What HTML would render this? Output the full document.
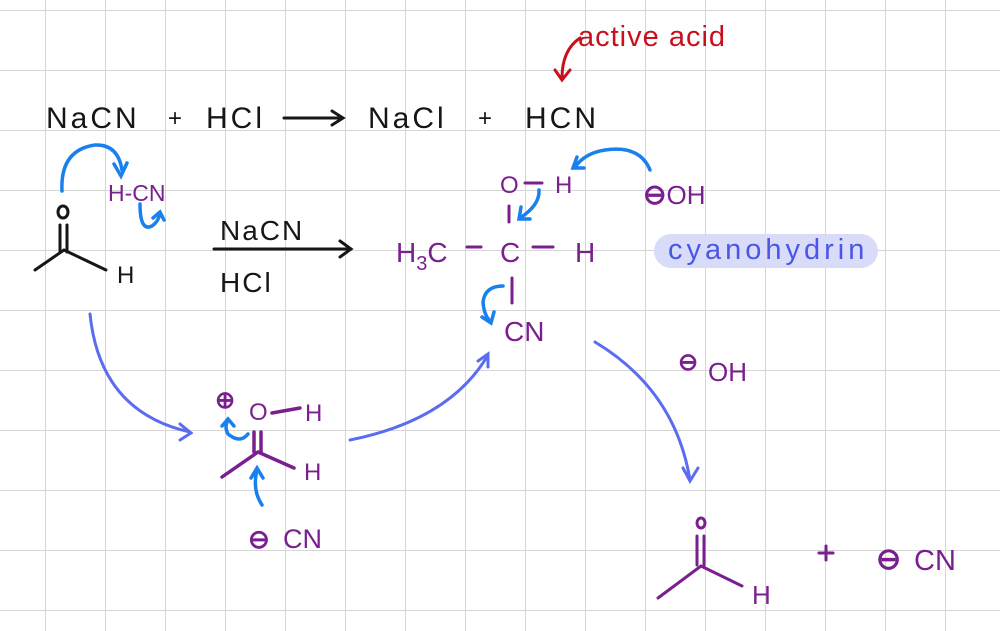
<!DOCTYPE html>
<html><head><meta charset="utf-8"><style>
html,body{margin:0;padding:0;background:#fff;}
svg{display:block;}
text{font-family:"Liberation Sans",sans-serif;}
</style></head><body>
<svg width="1000" height="631" viewBox="0 0 1000 631" xmlns="http://www.w3.org/2000/svg">
<defs>
<pattern id="g" x="-14" y="10" width="60" height="60" patternUnits="userSpaceOnUse">
<path d="M60 0V60M0 0H60" stroke="#d6d6d6" stroke-width="2" fill="none"/>
</pattern>
</defs>
<rect width="1000" height="631" fill="url(#g)"/>

<!-- top reaction -->
<g fill="#161616" font-size="30" letter-spacing="3">
<text x="46" y="128">NaCN</text>
<text x="168" y="126" font-size="24">+</text>
<text x="206" y="128">HCl</text>
<text x="368" y="128">NaCl</text>
<text x="478" y="126" font-size="24">+</text>
<text x="525" y="128">HCN</text>
</g>
<g stroke="#161616" stroke-width="3" fill="none" stroke-linecap="round">
<path d="M284 118H342M332 111L343 118L332 125"/>
<path d="M214 249H350M340 241L351 249L340 257"/>
</g>
<text x="578" y="46" fill="#c8101c" font-size="29" letter-spacing="1">active acid</text>
<path d="M580 38Q562 50 562 78M555 70L562 80L570 70" stroke="#c8101c" stroke-width="3" fill="none" stroke-linecap="round"/>

<!-- left aldehyde -->
<g stroke="#161616" stroke-width="3" fill="none" stroke-linecap="round">
<ellipse cx="63" cy="212" rx="5" ry="6"/>
<path d="M60 225V252M67 225V252M35 270L64 250L106 270"/>
</g>
<text x="117" y="283" fill="#161616" font-size="24">H</text>
<text x="108" y="201" fill="#7a1f8e" font-size="23">H-CN</text>
<g stroke="#1a80ee" stroke-width="3.5" fill="none" stroke-linecap="round">
<path d="M62 191Q60 150 95 145Q118 144 122 170M114 164L121 176L127 163"/>
<path d="M140 204Q140 232 152 226Q158 222 160 214M153 218L160 212L164 220"/>
</g>
<g fill="#161616" font-size="28" letter-spacing="2">
<text x="220" y="240">NaCN</text>
<text x="220" y="292">HCl</text>
</g>

<!-- cyanohydrin -->
<rect x="654" y="234" width="224" height="34" rx="17" fill="#d8dcf8"/>
<text x="668" y="259" fill="#4a56e6" font-size="29" letter-spacing="4">cyanohydrin</text>
<g fill="#7a1f8e" font-size="28">
<text x="500" y="193" font-size="24">O</text>
<text x="555" y="193" font-size="24">H</text>
<text x="396" y="262">H<tspan font-size="20" dy="8">3</tspan><tspan dy="-8">C</tspan></text>
<text x="500" y="262">C</text>
<text x="575" y="262">H</text>
<text x="504" y="341">CN</text>
<text x="643" y="204" font-size="26"><tspan font-weight="bold" font-size="28">⊖</tspan>OH</text>
</g>
<g stroke="#7a1f8e" stroke-width="3" fill="none" stroke-linecap="round">
<path d="M525 183H542M509 206V222M467 247H481M533 247H553M512 278V303"/>
</g>
<g stroke="#1a80ee" stroke-width="3.5" fill="none" stroke-linecap="round">
<path d="M650 170Q640 145 605 150Q585 153 575 167M577 157L573 168L584 168"/>
<path d="M539 190Q540 205 520 218M521 207L519 219L530 219"/>
<path d="M503 286Q485 286 483 302Q484 315 490 321M482 317L491 323L494 312"/>
</g>

<!-- periwinkle arrows -->
<g stroke="#5b6cf0" stroke-width="3" fill="none" stroke-linecap="round">
<path d="M90 314Q100 412 190 432M180 424L191 433L180 440"/>
<path d="M350 440Q450 420 488 355M478 361L488 354L488 367"/>
<path d="M595 342Q675 390 690 480M683 468L690 481L698 468"/>
</g>

<!-- intermediate -->
<g fill="#7a1f8e" font-size="24">
<text x="215" y="408" font-size="24" font-weight="bold">⊕</text>
<text x="249" y="420">O</text>
<text x="305" y="421">H</text>
<text x="304" y="480">H</text>
<text x="248" y="548" font-size="26" font-weight="bold">⊖</text>
<text x="283" y="548" font-size="27">CN</text>
</g>
<g stroke="#7a1f8e" stroke-width="3.5" fill="none" stroke-linecap="round">
<path d="M272 413L300 408M254 432V452M261 432V452M222 477L258 452L294 468"/>
</g>
<g stroke="#1a80ee" stroke-width="3.5" fill="none" stroke-linecap="round">
<path d="M248 434Q240 444 228 434Q224 427 228 420M222 426L228 419L234 426"/>
<path d="M262 505Q252 490 257 470M251 478L257 468L263 478"/>
</g>
<g fill="#7a1f8e" font-size="26">
<text x="678" y="370" font-size="24" font-weight="bold">⊖</text>
<text x="708" y="381">OH</text>
</g>

<!-- bottom product -->
<g stroke="#7a1f8e" stroke-width="3" fill="none" stroke-linecap="round">
<ellipse cx="701" cy="523" rx="4" ry="5"/>
<path d="M697 536V565M704 536V565M658 598L701 566L742 586"/>
<path d="M819 553H833M826 546V560"/>
</g>
<g fill="#7a1f8e" font-size="26">
<text x="752" y="604">H</text>
<text x="876" y="569" font-size="30" font-weight="bold">⊖</text>
<text x="914" y="570" font-size="29">CN</text>
</g>
</svg>
</body></html>
